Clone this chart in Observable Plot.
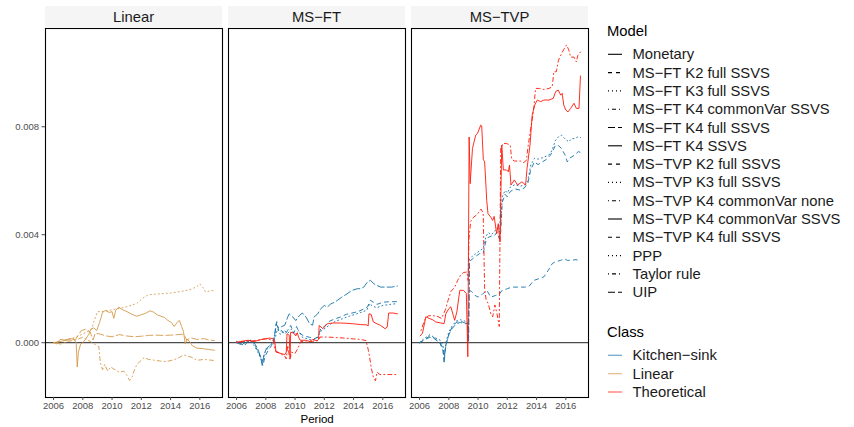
<!DOCTYPE html>
<html><head><meta charset="utf-8">
<script src="https://cdn.jsdelivr.net/npm/d3@7"></script>
<script src="https://cdn.jsdelivr.net/npm/@observablehq/plot@0.6"></script>
<style>
body{margin:0;background:#fff;font-family:"Liberation Sans",Arial,Helvetica,sans-serif;}
#wrap{position:relative;width:854px;height:427px;overflow:hidden;}
#chart{position:absolute;left:0;top:0;}
#legend{position:absolute;left:600px;top:0;}
</style></head>
<body><div id="wrap"><div id="chart"></div><svg id="legend" width="254" height="427"></svg></div>
<script>
// ---------- categories ----------
const panels = ["Linear", "MS−FT", "MS−TVP"];
const classes = ["Kitchen−sink", "Linear", "Theoretical"];
const models = ["Monetary", "MS−FT K2 full SSVS", "MS−FT K3 full SSVS", "MS−FT K4 commonVar SSVS",
  "MS−FT K4 full SSVS", "MS−FT K4 SSVS", "MS−TVP K2 full SSVS", "MS−TVP K3 full SSVS",
  "MS−TVP K4 commonVar none", "MS−TVP K4 commonVar SSVS", "MS−TVP K4 full SSVS", "PPP", "Taylor rule", "UIP"];
const modelLinetypes = ["solid", "dashed", "dotted", "dotdash", "longdash", "solid", "dashed", "dotted",
  "dotdash", "solid", "dashed", "dotted", "dotdash", "longdash"];
const yTicks = [0, 0.004, 0.008];
const xTicks = [2006, 2008, 2010, 2012, 2014, 2016];
const valueUnit = 0.001; // series values below are in thousandths

// ---------- series: [year, value x1000] ----------
const linMonetary = [[2006.0,0.02],[2006.2,-0.05],[2006.45,0.12],[2006.8,0.1],[2007.1,0.15],[2007.4,0.14],[2007.55,-0.02],[2007.62,-0.9],[2007.7,-0.35],[2007.85,-0.05],[2008.0,0.0],[2008.2,0.14],[2008.4,0.3],[2008.55,0.5],[2008.75,0.55],[2008.95,0.45],[2009.15,0.75],[2009.35,1.12],[2009.55,1.2],[2009.8,1.12],[2010.0,1.15],[2010.12,0.9],[2010.25,1.2],[2010.45,1.32],[2010.65,1.24],[2010.9,1.18],[2011.2,1.1],[2011.45,1.03],[2011.7,0.98],[2011.95,1.03],[2012.25,1.08],[2012.6,1.18],[2012.85,1.13],[2013.1,1.03],[2013.35,0.98],[2013.6,0.93],[2013.8,0.83],[2014.05,0.75],[2014.25,0.6],[2014.45,0.75],[2014.6,0.83],[2014.75,0.6],[2014.88,0.42],[2015.0,-0.04],[2015.12,0.12],[2015.3,0.05],[2015.5,-0.12],[2015.8,-0.2],[2016.2,-0.22],[2016.6,-0.25],[2017.0,-0.28]];
const linPPP = [[2006.0,0.0],[2006.5,0.05],[2007.0,0.12],[2007.5,0.2],[2007.9,0.3],[2008.3,0.4],[2008.6,0.5],[2008.8,0.85],[2009.0,1.15],[2009.3,1.15],[2009.8,1.2],[2010.3,1.25],[2010.8,1.3],[2011.3,1.38],[2011.7,1.46],[2012.1,1.65],[2012.5,1.78],[2013.0,1.8],[2013.5,1.82],[2014.0,1.84],[2014.5,1.88],[2015.0,1.93],[2015.4,1.98],[2015.8,2.08],[2016.0,2.18],[2016.2,2.05],[2016.4,1.88],[2016.7,1.92],[2017.0,1.94]];
const linTaylor = [[2006.0,0.0],[2006.5,-0.05],[2007.0,0.05],[2007.5,0.1],[2008.0,0.2],[2008.5,0.05],[2008.8,-0.05],[2009.1,-0.15],[2009.2,-0.75],[2009.35,-1.0],[2009.5,-0.8],[2009.7,-1.05],[2009.9,-0.9],[2010.2,-1.0],[2010.5,-1.1],[2010.8,-1.05],[2011.0,-1.2],[2011.2,-1.4],[2011.35,-1.3],[2011.5,-1.05],[2011.7,-0.8],[2011.9,-0.7],[2012.2,-0.55],[2012.5,-0.62],[2012.9,-0.65],[2013.3,-0.68],[2013.7,-0.7],[2014.1,-0.65],[2014.5,-0.58],[2014.9,-0.45],[2015.2,-0.5],[2015.5,-0.55],[2015.8,-0.65],[2016.3,-0.62],[2017.0,-0.66]];
const linUIP = [[2006.0,0.0],[2006.5,0.05],[2007.0,0.1],[2007.5,0.12],[2007.9,0.45],[2008.2,0.5],[2008.5,0.4],[2008.7,0.1],[2008.85,0.35],[2009.2,0.32],[2009.6,0.25],[2010.0,0.22],[2010.5,0.3],[2011.0,0.25],[2011.5,0.22],[2012.0,0.24],[2012.5,0.27],[2013.0,0.28],[2013.5,0.27],[2014.0,0.28],[2014.5,0.3],[2014.9,0.32],[2015.1,0.1],[2015.4,0.18],[2015.8,0.12],[2016.3,0.15],[2016.6,0.1],[2017.0,0.08]];

const ftK2full = [[2006.0,0.02],[2006.3,-0.08],[2006.6,0.0],[2006.9,0.1],[2007.2,-0.05],[2007.45,-0.3],[2007.7,-0.6],[2007.8,-0.85],[2007.95,-0.5],[2008.15,-0.3],[2008.4,-0.1],[2008.6,0.25],[2008.75,0.78],[2008.9,0.4],[2009.1,0.45],[2009.3,0.3],[2009.5,0.46],[2009.7,0.64],[2009.9,0.35],[2010.1,0.6],[2010.3,0.36],[2010.6,0.25],[2011.0,0.2],[2011.3,0.15],[2011.55,0.2],[2011.76,0.52],[2012.0,0.6],[2012.3,0.78],[2012.7,0.88],[2013.1,0.95],[2013.5,1.05],[2013.9,1.1],[2014.3,1.15],[2014.7,1.25],[2014.95,1.32],[2015.15,1.57],[2015.35,1.5],[2015.6,1.42],[2016.0,1.5],[2016.5,1.52],[2017.0,1.52]];
const ftK3full = [[2006.0,0.0],[2006.3,-0.05],[2006.6,0.05],[2006.9,0.08],[2007.2,-0.1],[2007.5,-0.4],[2007.75,-0.7],[2007.95,-0.35],[2008.2,-0.15],[2008.45,0.0],[2008.65,0.2],[2008.8,0.5],[2009.0,0.3],[2009.25,0.45],[2009.5,0.35],[2009.75,0.5],[2010.0,0.3],[2010.25,0.45],[2010.5,0.2],[2010.8,0.15],[2011.1,0.1],[2011.4,0.12],[2011.6,0.25],[2011.8,0.45],[2012.1,0.55],[2012.5,0.72],[2012.9,0.82],[2013.3,0.9],[2013.7,0.98],[2014.1,1.05],[2014.5,1.12],[2014.9,1.2],[2015.1,1.45],[2015.3,1.35],[2015.6,1.3],[2016.0,1.38],[2016.5,1.42],[2017.0,1.45]];
const ftK4common = [[2006.0,0.0],[2006.5,0.05],[2007.0,0.06],[2007.5,0.1],[2008.0,0.14],[2008.5,0.1],[2008.65,-0.3],[2009.0,-0.4],[2009.3,-0.5],[2009.4,-0.6],[2009.5,-0.1],[2009.65,-0.65],[2009.75,-0.35],[2010.0,-0.4],[2010.2,-0.2],[2010.4,0.05],[2010.8,0.02],[2011.2,0.05],[2011.6,0.08],[2011.7,0.21],[2012.2,0.21],[2012.8,0.19],[2013.4,0.17],[2014.0,0.14],[2014.5,0.12],[2014.85,0.08],[2015.0,-0.25],[2015.1,-0.55],[2015.2,-0.9],[2015.35,-1.28],[2015.5,-1.41],[2015.6,-1.09],[2015.8,-1.18],[2016.3,-1.18],[2017.0,-1.18]];
const ftK4full = [[2006.0,0.05],[2006.3,-0.05],[2006.55,-0.1],[2006.8,0.05],[2007.0,0.11],[2007.2,0.0],[2007.45,-0.22],[2007.65,-0.53],[2007.75,-0.84],[2007.9,-0.4],[2008.05,-0.2],[2008.3,-0.1],[2008.55,0.05],[2008.7,0.7],[2008.85,0.55],[2009.1,0.6],[2009.3,0.65],[2009.5,0.95],[2009.6,1.07],[2009.85,0.95],[2010.05,0.82],[2010.3,1.01],[2010.5,1.1],[2010.75,0.95],[2011.0,0.7],[2011.2,0.65],[2011.3,0.95],[2011.55,1.07],[2011.76,1.26],[2012.0,1.38],[2012.2,1.32],[2012.45,1.44],[2012.7,1.5],[2012.9,1.57],[2013.2,1.69],[2013.55,1.81],[2013.9,1.94],[2014.25,2.0],[2014.5,2.0],[2014.7,2.06],[2014.95,2.25],[2015.15,2.31],[2015.4,2.18],[2015.6,2.12],[2015.85,2.06],[2016.1,2.06],[2016.6,2.06],[2017.0,2.1]];
const ftK4ssvs = [[2006.0,0.02],[2006.3,0.05],[2006.8,0.09],[2007.2,0.04],[2007.7,0.12],[2008.0,0.15],[2008.25,0.17],[2008.5,0.15],[2008.6,0.09],[2008.7,-0.35],[2008.9,-0.38],[2009.1,-0.41],[2009.3,-0.44],[2009.4,-0.35],[2009.45,0.33],[2009.6,0.28],[2009.66,-0.53],[2009.7,0.39],[2009.9,0.36],[2010.05,0.25],[2010.15,0.37],[2010.25,0.2],[2010.35,0.09],[2010.7,0.09],[2011.0,0.05],[2011.2,0.12],[2011.5,0.07],[2011.6,0.12],[2011.65,0.64],[2011.9,0.52],[2012.2,0.7],[2012.6,0.73],[2013.1,0.73],[2013.5,0.72],[2014.0,0.7],[2014.5,0.67],[2014.9,0.66],[2015.0,0.62],[2015.05,1.07],[2015.2,1.05],[2015.35,0.77],[2015.6,0.7],[2015.85,0.64],[2016.15,0.52],[2016.3,0.58],[2016.4,1.1],[2016.7,1.1],[2017.0,1.07]];

const tvpK2full = [[2006.0,0.0],[2006.3,0.1],[2006.7,0.25],[2007.0,0.18],[2007.4,-0.02],[2007.6,-0.3],[2007.68,-0.78],[2007.75,-0.2],[2008.0,0.3],[2008.2,0.55],[2008.5,0.75],[2008.8,0.8],[2009.1,0.73],[2009.28,0.7],[2009.32,0.1],[2009.39,1.94],[2009.55,1.9],[2009.8,1.75],[2010.0,1.69],[2010.3,1.8],[2010.6,1.94],[2010.87,1.69],[2011.2,1.75],[2011.45,1.8],[2011.65,1.94],[2012.0,2.0],[2012.3,2.06],[2012.7,2.06],[2013.2,2.06],[2013.5,2.1],[2013.82,2.31],[2014.15,2.37],[2014.5,2.44],[2014.8,2.68],[2015.07,2.93],[2015.3,3.0],[2015.65,3.05],[2015.9,3.11],[2016.1,3.05],[2016.4,3.05],[2016.7,3.08],[2017.0,3.02]];
const tvpK3full = [[2006.0,0.0],[2006.3,0.15],[2006.7,0.3],[2007.0,0.2],[2007.4,0.1],[2007.6,-0.1],[2007.7,-0.5],[2007.8,0.0],[2008.0,0.4],[2008.2,0.6],[2008.5,0.8],[2008.8,0.85],[2009.1,0.8],[2009.3,0.75],[2009.35,0.2],[2009.42,3.1],[2009.6,3.2],[2009.85,3.3],[2010.1,3.4],[2010.35,3.5],[2010.55,3.95],[2010.7,4.08],[2010.9,4.0],[2011.1,4.1],[2011.3,4.25],[2011.45,4.1],[2011.55,4.3],[2011.65,5.4],[2011.85,5.64],[2012.0,5.55],[2012.2,5.76],[2012.5,5.85],[2012.9,5.8],[2013.2,5.85],[2013.4,6.0],[2013.6,6.58],[2013.85,6.83],[2014.1,6.8],[2014.4,6.85],[2014.7,6.92],[2014.95,7.0],[2015.1,7.2],[2015.3,7.5],[2015.5,7.63],[2015.7,7.69],[2015.95,7.55],[2016.2,7.44],[2016.4,7.56],[2016.6,7.56],[2016.85,7.63],[2017.0,7.6]];
const tvpK4none = [[2006.1,0.45],[2006.35,0.85],[2006.6,1.0],[2006.9,1.0],[2007.2,0.98],[2007.5,0.9],[2007.75,1.2],[2007.95,1.57],[2008.15,1.9],[2008.4,2.05],[2008.6,2.3],[2008.8,2.5],[2009.0,2.6],[2009.25,2.62],[2009.32,2.3],[2009.38,3.85],[2009.5,4.5],[2009.7,4.65],[2009.95,4.75],[2010.2,4.95],[2010.35,4.8],[2010.45,2.0],[2010.55,1.6],[2010.7,1.44],[2010.87,1.07],[2011.0,0.96],[2011.15,1.4],[2011.3,1.07],[2011.45,0.6],[2011.55,7.2],[2011.7,7.38],[2011.95,7.38],[2012.2,7.32],[2012.3,6.8],[2012.48,6.73],[2012.9,6.73],[2013.1,6.67],[2013.3,6.75],[2013.4,7.2],[2013.6,7.94],[2013.68,8.18],[2013.82,8.74],[2013.93,9.42],[2014.2,9.42],[2014.5,9.38],[2014.85,9.42],[2015.07,9.48],[2015.18,10.04],[2015.35,10.04],[2015.5,10.47],[2015.7,10.7],[2015.9,10.9],[2016.05,11.03],[2016.2,10.85],[2016.33,10.58],[2016.56,10.58],[2016.72,10.4],[2016.82,10.64],[2017.0,10.77]];
const tvpK4common = [[2006.04,0.25],[2006.2,0.35],[2006.43,0.96],[2006.65,0.9],[2006.9,0.85],[2007.1,0.77],[2007.45,0.73],[2007.68,0.71],[2007.8,1.08],[2008.0,1.26],[2008.14,1.33],[2008.3,1.02],[2008.4,0.83],[2008.55,1.14],[2008.75,1.94],[2009.0,1.94],[2009.2,1.82],[2009.3,-0.52],[2009.39,7.62],[2009.46,5.89],[2009.62,7.2],[2009.84,7.69],[2009.96,7.75],[2010.18,8.06],[2010.25,8.03],[2010.36,6.79],[2010.45,6.7],[2010.55,5.72],[2010.59,5.27],[2010.68,4.78],[2010.87,4.65],[2011.0,4.53],[2011.1,4.68],[2011.27,4.04],[2011.38,4.41],[2011.5,3.73],[2011.62,7.32],[2011.73,6.4],[2011.95,6.4],[2012.07,6.33],[2012.15,6.58],[2012.25,5.84],[2012.48,6.03],[2012.7,5.84],[2013.0,5.96],[2013.25,5.84],[2013.35,6.46],[2013.55,7.32],[2013.7,8.43],[2013.87,8.8],[2014.05,8.99],[2014.28,8.93],[2014.5,8.99],[2014.85,8.99],[2015.14,9.05],[2015.3,9.3],[2015.48,9.36],[2015.65,9.17],[2015.75,9.24],[2015.86,8.8],[2016.0,8.62],[2016.15,8.55],[2016.33,8.68],[2016.56,8.87],[2016.72,8.68],[2016.9,8.68],[2017.0,9.88]];
const tvpK4full = [[2006.0,0.0],[2006.3,0.1],[2006.7,0.2],[2007.0,0.15],[2007.4,0.0],[2007.6,-0.2],[2007.7,-0.6],[2007.8,-0.1],[2008.0,0.3],[2008.2,0.5],[2008.5,0.7],[2008.8,0.75],[2009.1,0.7],[2009.3,0.72],[2009.35,0.0],[2009.42,3.0],[2009.6,3.1],[2009.85,3.2],[2010.1,3.3],[2010.35,3.3],[2010.55,3.8],[2010.7,3.9],[2010.9,3.95],[2011.1,3.95],[2011.3,4.1],[2011.45,3.85],[2011.55,4.1],[2011.65,5.2],[2011.85,5.5],[2012.0,5.4],[2012.2,5.6],[2012.5,5.7],[2012.9,5.65],[2013.2,5.75],[2013.4,5.9],[2013.6,6.4],[2013.85,6.7],[2014.1,6.6],[2014.4,6.7],[2014.7,6.8],[2014.95,6.95],[2015.1,7.1],[2015.3,7.32],[2015.5,7.3],[2015.7,7.2],[2015.95,6.95],[2016.1,6.7],[2016.3,6.85],[2016.6,6.95],[2016.85,7.08],[2017.0,7.05]];

// series registry: model, panel, class, points
const seriesList = [
  ["Monetary", "Linear", "Linear", linMonetary],
  ["PPP", "Linear", "Linear", linPPP],
  ["Taylor rule", "Linear", "Linear", linTaylor],
  ["UIP", "Linear", "Linear", linUIP],
  ["MS−FT K2 full SSVS", "MS−FT", "Kitchen−sink", ftK2full],
  ["MS−FT K3 full SSVS", "MS−FT", "Kitchen−sink", ftK3full],
  ["MS−FT K4 full SSVS", "MS−FT", "Kitchen−sink", ftK4full],
  ["MS−FT K4 commonVar SSVS", "MS−FT", "Theoretical", ftK4common],
  ["MS−FT K4 SSVS", "MS−FT", "Theoretical", ftK4ssvs],
  ["MS−TVP K2 full SSVS", "MS−TVP", "Kitchen−sink", tvpK2full],
  ["MS−TVP K3 full SSVS", "MS−TVP", "Kitchen−sink", tvpK3full],
  ["MS−TVP K4 full SSVS", "MS−TVP", "Kitchen−sink", tvpK4full],
  ["MS−TVP K4 commonVar none", "MS−TVP", "Theoretical", tvpK4none],
  ["MS−TVP K4 commonVar SSVS", "MS−TVP", "Theoretical", tvpK4common]
];

// ---------- styles ----------
const classColors = ["#1672A8", "#D49A4C", "#FF1A0A"];
const dashes = {solid: null, dashed: "4,4", dotted: "1,3", dotdash: "1,3,4,3", longdash: "7,3"};
const FONT = '"Liberation Sans", Arial, Helvetica, sans-serif';

const rows = [];
for (const [model, panel, cls, pts] of seriesList)
  for (const [x, v] of pts) rows.push({model, panel, cls, x, y: v * valueUnit});

const lineMarks = seriesList.map(([model]) => {
  const lt = modelLinetypes[models.indexOf(model)];
  return Plot.line(rows.filter(d => d.model === model), {
    x: "x", y: "y", fx: "panel", stroke: "cls",
    strokeWidth: 1, strokeOpacity: 0.9,
    strokeDasharray: dashes[lt] || undefined, curve: "linear"
  });
});

const plot = Plot.plot({
  width: 600, height: 427,
  marginLeft: 45, marginRight: 10.7, marginTop: 28, marginBottom: 30,
  style: {fontFamily: FONT, background: "#fff"},
  fx: {domain: panels, paddingInner: 0.031, paddingOuter: 0, axis: null, label: null},
  x: {domain: [2005.45, 2017.55], label: null},
  y: {domain: [-0.00203, 0.01164], label: null},
  color: {domain: classes, range: classColors},
  marks: [
    Plot.ruleY([0], {stroke: "#000", strokeOpacity: 0.7, strokeWidth: 1.2}),
    ...lineMarks,
    Plot.frame({stroke: "#000", strokeWidth: 1.1}),
    Plot.axisX(xTicks, {tickSize: 3, tickPadding: 2, fontSize: 9.5, tickFormat: d => String(d), label: null, color: "#4D4D4D"}),
    Plot.axisY(yTicks, {tickSize: 3.5, tickPadding: 3, fontSize: 9.5, tickFormat: d3.format(".3f"), label: null, color: "#4D4D4D"})
  ]
});
document.getElementById("chart").appendChild(plot);

// strips and axis title
const svg = d3.select(plot);
const fx = plot.scale("fx");
const strips = svg.append("g");
for (const p of panels) {
  const x0 = fx.apply(p);
  strips.append("rect").attr("x", x0).attr("y", 6).attr("width", fx.bandwidth).attr("height", 22)
    .attr("fill", "#F5F5F5");
  strips.append("text").attr("x", x0 + fx.bandwidth / 2).attr("y", 17).attr("text-anchor", "middle")
    .attr("dominant-baseline", "central").attr("font-size", 14.8).attr("fill", "#1A1A1A").text(p);
}
svg.append("text").attr("x", (45 + 589.3) / 2).attr("y", 419).attr("text-anchor", "middle")
  .attr("dominant-baseline", "central").attr("font-size", 11.5).attr("fill", "#000").text("Period");

// legend
const lg = d3.select("#legend").style("font-family", FONT);
lg.append("text").attr("x", 7).attr("y", 31).attr("dominant-baseline", "central").attr("font-size", 14.8).attr("fill", "#000").text("Model");
models.forEach((m, i) => {
  const y = 54.3 + i * 18.3;
  const lt = modelLinetypes[i];
  lg.append("line").attr("x1", 8).attr("x2", 22).attr("y1", y).attr("y2", y).attr("stroke", "#000")
    .attr("stroke-width", 1.1).attr("stroke-dasharray", dashes[lt]);
  lg.append("text").attr("x", 32.5).attr("y", y).attr("dominant-baseline", "central").attr("font-size", 14.8).attr("fill", "#1A1A1A").text(m);
});
lg.append("text").attr("x", 7).attr("y", 332).attr("dominant-baseline", "central").attr("font-size", 14.8).attr("fill", "#000").text("Class");
classes.forEach((c, i) => {
  const y = 355.3 + i * 18.35;
  lg.append("line").attr("x1", 8).attr("x2", 22).attr("y1", y).attr("y2", y).attr("stroke", classColors[i])
    .attr("stroke-width", 1.3).attr("stroke-opacity", 0.6);
  lg.append("text").attr("x", 32.5).attr("y", y).attr("dominant-baseline", "central").attr("font-size", 14.8).attr("fill", "#1A1A1A").text(c);
});
</script>
</body></html>
